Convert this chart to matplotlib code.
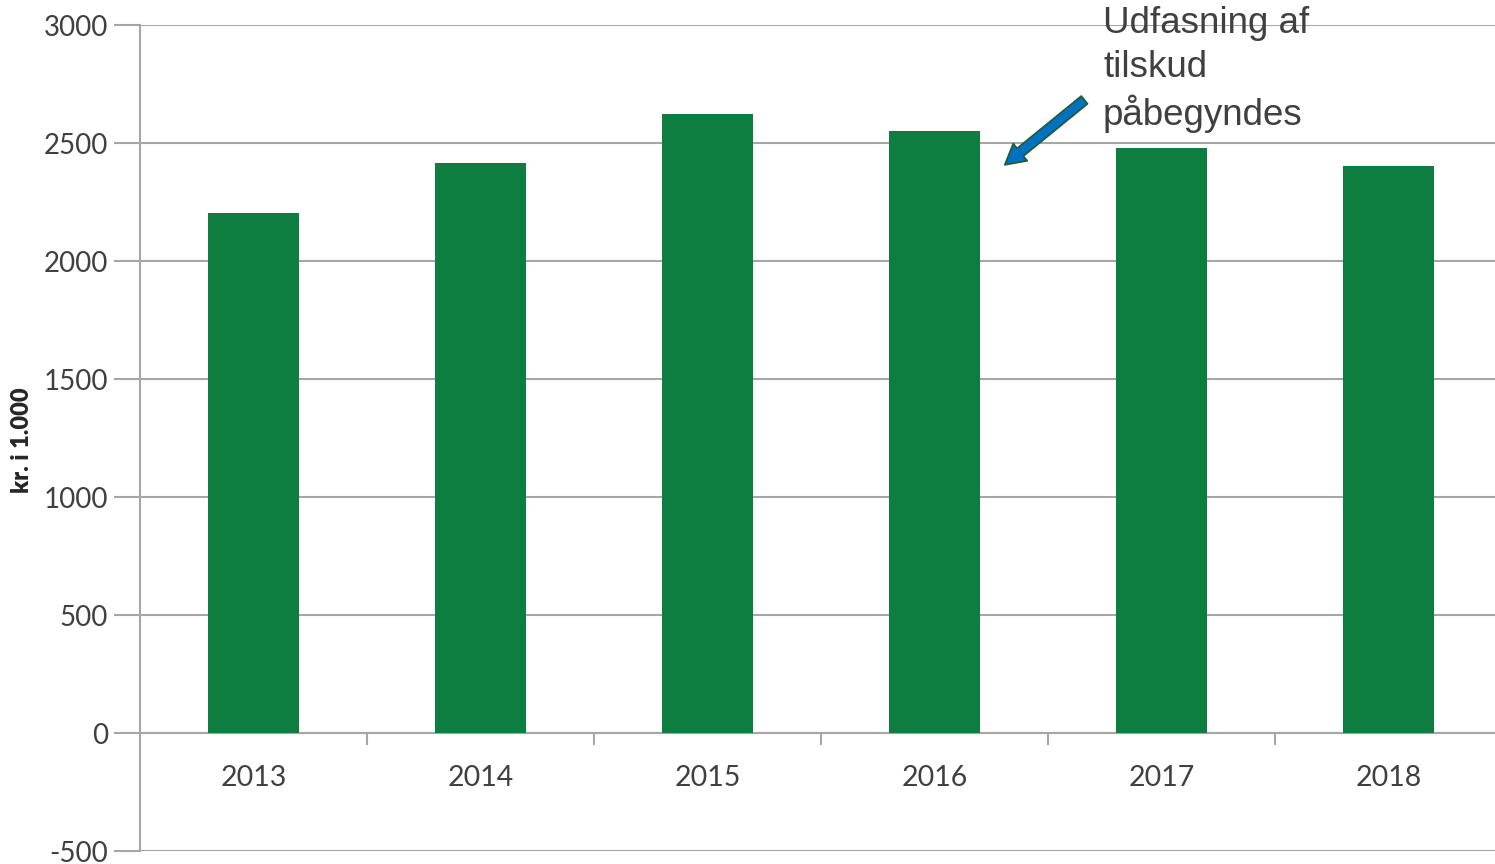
import matplotlib.pyplot as plt
from matplotlib.ticker import MultipleLocator

years = ["2013", "2014", "2015", "2016", "2017", "2018"]
values = [2205, 2415, 2625, 2552, 2478, 2403]

bar_color = "#0E7D40"
grid_color = "#A6A6A6"
text_color = "#404040"

plt.rcParams["font.family"] = ["Lato", "DejaVu Sans"]
plt.rcParams["axes.unicode_minus"] = False

fig = plt.figure(figsize=(14.95, 8.64), dpi=100)
ax = fig.add_axes([140 / 1495, 13 / 864, 1362 / 1495, 826 / 864])

x = range(len(years))
ax.bar(x, values, width=0.4, color=bar_color, zorder=3)

ax.set_xlim(-0.5, len(years) - 0.5)
ax.set_ylim(-500, 3000)
ax.yaxis.set_major_locator(MultipleLocator(500))
ax.grid(axis="y", color=grid_color, linewidth=1.5, zorder=0)

for side in ["top", "right", "bottom"]:
    ax.spines[side].set_visible(False)
ax.spines["left"].set_color(grid_color)
ax.spines["left"].set_linewidth(1.5)

# category axis sits at zero with tick marks between the bars
ax.axhline(0, color=grid_color, linewidth=1.5, zorder=2)
ax.set_xticks([])
for b in range(1, len(years) + 1):
    ax.plot([b - 0.5, b - 0.5], [0, -45], color=grid_color, linewidth=1.5,
            clip_on=False, zorder=2)
for i, yr in enumerate(years):
    ax.text(i, -190, yr, ha="center", va="center", fontsize=20.5,
            color=text_color)

ax.tick_params(axis="y", length=19, width=1.5, color=grid_color,
               labelsize=20, labelcolor=text_color, pad=4)

fig.text(22 / 1495, 1 - 440 / 864, "kr. i 1.000", rotation=90,
         ha="center", va="center", fontsize=17, fontweight="heavy",
         color="#262626")

ax.annotate("", xy=(3.3, 2400), xytext=(3.67, 2690),
            arrowprops=dict(arrowstyle="simple,head_width=1.0,head_length=0.9,tail_width=0.45",
                            facecolor="#0070C0", edgecolor="#1E5B36",
                            linewidth=1.2, mutation_scale=16),
            zorder=5)

fig.text(1103 / 1495, 1 - 6 / 864, "Udfasning af\ntilskud\npåbegyndes",
         ha="left", va="top", fontsize=26.5, color="#404040",
         family=["Liberation Sans", "DejaVu Sans"], linespacing=1.32)

fig.savefig("out.png", dpi=100)
